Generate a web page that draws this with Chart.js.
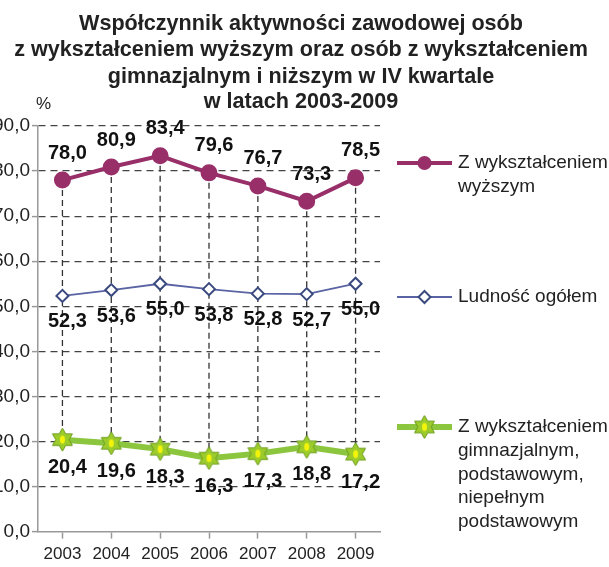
<!DOCTYPE html>
<html lang="pl">
<head>
<meta charset="utf-8">
<script src="https://cdn.jsdelivr.net/npm/chart.js@4.4.0/dist/chart.umd.min.js"></script>
<style>
  html, body { margin: 0; padding: 0; background: #fff; }
  #wrap { width: 609px; height: 567px; }
</style>
</head>
<body>
<div id="wrap"><canvas id="myChart" width="609" height="567"></canvas></div>
<script>
const lata = ['2003', '2004', '2005', '2006', '2007', '2008', '2009'];
const wyzsze = [78.0, 80.9, 83.4, 79.6, 76.7, 73.3, 78.5];
const ogolem = [52.3, 53.6, 55.0, 53.8, 52.8, 52.7, 55.0];
const gimnazjalne = [20.4, 19.6, 18.3, 16.3, 17.3, 18.8, 17.2];

const tytul = [
  'Współczynnik aktywności zawodowej osób',
  'z wykształceniem wyższym oraz osób z wykształceniem',
  'gimnazjalnym i niższym w IV kwartale',
  'w latach 2003-2009'
];
const legenda = [
  ['Z wykształceniem', 'wyższym'],
  ['Ludność ogółem'],
  ['Z wykształceniem', 'gimnazjalnym,', 'podstawowym,', 'niepełnym', 'podstawowym']
];

const FONT = "'Liberation Sans', Arial, sans-serif";
const fmt = v => v.toFixed(1).replace('.', ',');

// gwiazdka jako znacznik punktu
function makeStar(size) {
  const c = document.createElement('canvas');
  c.width = size; c.height = size;
  const g = c.getContext('2d');
  const cx = size / 2, cy = size / 2, R = size / 2 - 1, r = R / Math.sqrt(3);
  g.beginPath();
  for (let i = 0; i < 12; i++) {
    const a = -Math.PI / 2 + i * Math.PI / 6;
    const rr = i % 2 === 0 ? R : r;
    const px = cx + rr * Math.cos(a), py = cy + rr * Math.sin(a);
    if (i === 0) g.moveTo(px, py); else g.lineTo(px, py);
  }
  g.closePath();
  g.fillStyle = '#9ccc2c';
  g.fill();
  g.strokeStyle = '#6a9a1a';
  g.lineWidth = 1;
  g.stroke();
  g.beginPath();
  g.ellipse(cx, cy, 2.5, 4, 0, 0, Math.PI * 2);
  g.fillStyle = '#f4f40a';
  g.fill();
  return c;
}
const star = makeStar(25);

const offsets = [-27, 26, 28];

const extras = {
  id: 'extras',
  beforeDatasetsDraw(chart) {
    const ctx = chart.ctx;
    const top = chart.getDatasetMeta(0).data;
    const bot = chart.getDatasetMeta(2).data;
    ctx.save();
    ctx.strokeStyle = '#333';
    ctx.lineWidth = 1.3;
    ctx.setLineDash([6, 4]);
    top.forEach((p, i) => {
      ctx.beginPath();
      ctx.moveTo(p.x, p.y);
      ctx.lineTo(bot[i].x, bot[i].y);
      ctx.stroke();
    });
    ctx.restore();
  },
  afterDatasetsDraw(chart) {
    const ctx = chart.ctx;
    ctx.save();
    ctx.fillStyle = '#111';
    ctx.font = 'bold 20px ' + FONT;
    ctx.textAlign = 'center';
    ctx.textBaseline = 'middle';
    chart.data.datasets.forEach((ds, di) => {
      chart.getDatasetMeta(di).data.forEach((p, i) => {
        ctx.fillText(fmt(ds.data[i]), p.x + 5, p.y + offsets[di]);
      });
    });
    ctx.restore();
  },
  afterDraw(chart) {
    const ctx = chart.ctx;
    ctx.save();
    // tytuł
    ctx.fillStyle = '#222';
    ctx.font = 'bold 21.6px ' + FONT;
    ctx.textAlign = 'center';
    ctx.textBaseline = 'middle';
    const ty = [24, 50, 77, 102];
    tytul.forEach((t, i) => ctx.fillText(t, 301, ty[i]));
    ctx.font = '17px ' + FONT;
    ctx.textAlign = 'left';
    ctx.fillText('%', 36, 104);

    // legenda
    const ly = [163, 297, 427];
    const x0 = 397, x1 = 452;
    chart.data.datasets.forEach((ds, i) => {
      const y = ly[i];
      ctx.strokeStyle = ds.borderColor;
      ctx.lineWidth = ds.borderWidth;
      ctx.setLineDash([]);
      ctx.beginPath();
      ctx.moveTo(x0, y);
      ctx.lineTo(x1, y);
      ctx.stroke();
      const mx = (x0 + x1) / 2;
      if (i === 0) {
        ctx.fillStyle = ds.pointBackgroundColor;
        ctx.beginPath();
        ctx.arc(mx, y, 7, 0, Math.PI * 2);
        ctx.fill();
      } else if (i === 1) {
        ctx.fillStyle = '#fff';
        ctx.strokeStyle = ds.pointBorderColor;
        ctx.lineWidth = 2;
        ctx.beginPath();
        ctx.moveTo(mx, y - 6); ctx.lineTo(mx + 6, y); ctx.lineTo(mx, y + 6); ctx.lineTo(mx - 6, y);
        ctx.closePath();
        ctx.fill();
        ctx.stroke();
      } else {
        ctx.drawImage(star, mx - 12.5, y - 12.5);
      }
      ctx.fillStyle = '#222';
      ctx.font = '19px ' + FONT;
      ctx.textBaseline = 'middle';
      legenda[i].forEach((t, k) => ctx.fillText(t, 458, y + k * 23.7));
    });
    ctx.restore();
  }
};

const ctx = document.getElementById('myChart').getContext('2d');
const chart = new Chart(ctx, {
  type: 'line',
  data: {
    labels: lata,
    datasets: [
      {
        label: 'Z wykształceniem wyższym',
        data: wyzsze,
        borderColor: '#982f69',
        backgroundColor: '#982f69',
        borderWidth: 4,
        pointStyle: 'circle',
        pointRadius: 6.5,
        pointBackgroundColor: '#982f69',
        pointBorderColor: '#982f69',
        tension: 0
      },
      {
        label: 'Ludność ogółem',
        data: ogolem,
        borderColor: '#5a64a4',
        backgroundColor: '#fff',
        borderWidth: 1.8,
        pointStyle: 'rectRot',
        pointRadius: 6,
        pointBackgroundColor: '#fff',
        pointBorderColor: '#3b4a7e',
        pointBorderWidth: 2,
        tension: 0
      },
      {
        label: 'Z wykształceniem gimnazjalnym, podstawowym, niepełnym podstawowym',
        data: gimnazjalne,
        borderColor: '#8cc63f',
        backgroundColor: '#8cc63f',
        borderWidth: 6,
        pointStyle: star,
        pointRadius: 12,
        tension: 0
      }
    ]
  },
  options: {
    responsive: false,
    animation: false,
    layout: { padding: { top: 126, right: 229, bottom: -4, left: 0 } },
    plugins: {
      legend: { display: false },
      tooltip: { enabled: false },
      title: { display: false }
    },
    scales: {
      x: {
        offset: true,
        grid: { drawOnChartArea: false, tickLength: 7, tickColor: '#999', tickWidth: 1.5 },
        border: { color: '#999', width: 1.5 },
        ticks: { font: { size: 17, family: FONT }, color: '#222', padding: 6 }
      },
      y: {
        min: 0,
        max: 90,
        afterFit: s => { s.width = 38; },
        ticks: {
          stepSize: 10,
          font: { size: 19, family: FONT },
          color: '#222',
          padding: 2,
          callback: v => fmt(v)
        },
        grid: {
          color: c => c.tick && c.tick.value === 0 ? 'rgba(0,0,0,0)' : '#444',
          lineWidth: 1.2,
          tickColor: '#999',
          tickLength: 6,
          tickWidth: 1.5
        },
        border: { color: '#999', width: 1.5, dash: [7, 5] }
      }
    }
  },
  plugins: [extras]
});
</script>
</body>
</html>
